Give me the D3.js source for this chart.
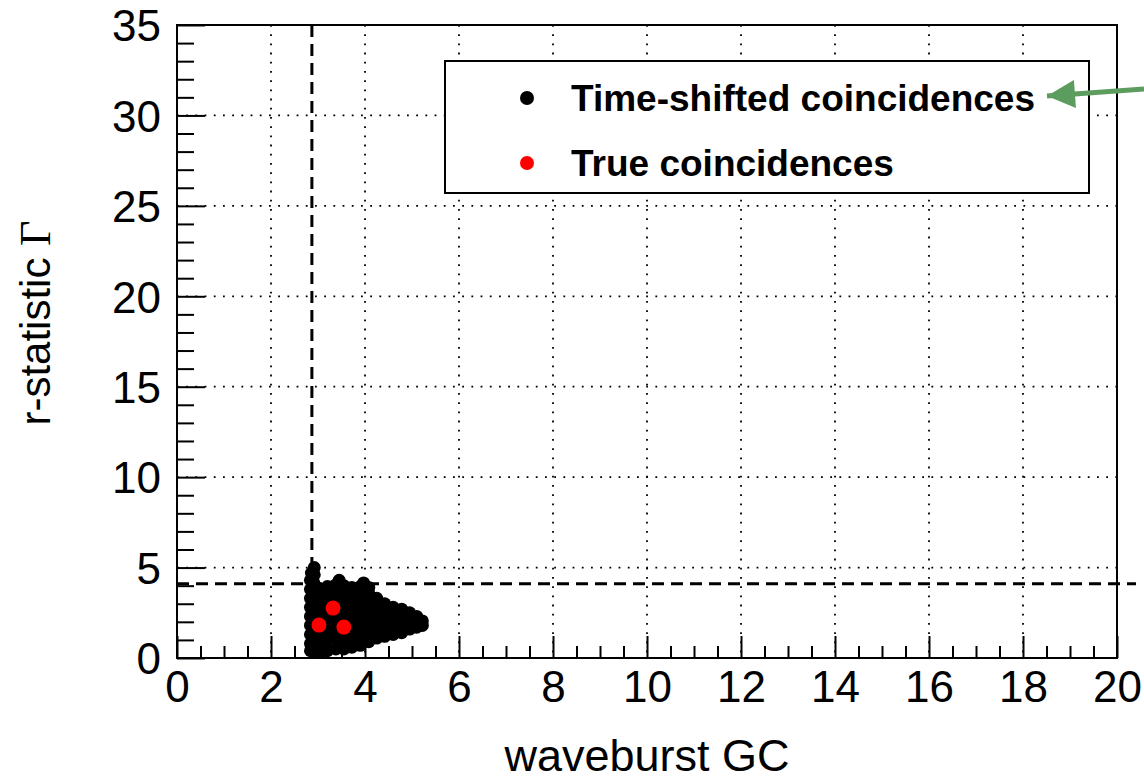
<!DOCTYPE html>
<html>
<head>
<meta charset="utf-8">
<script src="https://cdn.jsdelivr.net/npm/d3@7"></script>
<style>
  body { margin: 0; background: #fff; }
  svg { display: block; font-family: 'Liberation Sans', Arial, sans-serif; }
</style>
</head>
<body>
<script>
// data
var xMajorTicks = [0, 2, 4, 6, 8, 10, 12, 14, 16, 18, 20];
var yMajorTicks = [0, 5, 10, 15, 20, 25, 30, 35];
var xCut = 2.87;
var yCut = 4.1;

var shiftedPoints = [
	[2.84, 0.4], [2.84, 0.8], [2.84, 1.3], [2.84, 1.8], [2.84, 2.3], [2.84, 2.8], [2.84, 3.3], [2.84, 3.8], [2.84, 4.3], [2.86, 4.7],
	[2.92, 0.3], [2.92, 0.6], [2.92, 1.1], [2.92, 1.6], [2.92, 2.1], [2.92, 2.6], [2.92, 3.1], [2.92, 3.6], [2.92, 4.1], [2.92, 4.6], [2.92, 5.0],
	[3.05, 0.3], [3.05, 0.8], [3.05, 1.3], [3.05, 1.9], [3.05, 2.4], [3.05, 2.9], [3.05, 3.4], [3.05, 3.8],
	[3.2, 0.4], [3.2, 1.0], [3.2, 1.5], [3.2, 2.0], [3.2, 2.5], [3.2, 3.0], [3.2, 3.5], [3.2, 3.95],
	[3.38, 0.5], [3.38, 1.1], [3.38, 1.6], [3.38, 2.1], [3.38, 2.6], [3.38, 3.1], [3.38, 3.6], [3.38, 4.05], [3.45, 4.3],
	[3.55, 0.5], [3.55, 1.0], [3.55, 1.5], [3.55, 2.0], [3.55, 2.5], [3.55, 3.0], [3.55, 3.5], [3.55, 4.0],
	[3.72, 0.6], [3.72, 1.1], [3.72, 1.6], [3.72, 2.1], [3.72, 2.6], [3.72, 3.1], [3.72, 3.6], [3.72, 3.9],
	[3.9, 0.7], [3.9, 1.1], [3.9, 1.6], [3.9, 2.1], [3.9, 2.6], [3.9, 3.1], [3.9, 3.6], [3.9, 3.95], [3.97, 4.15],
	[4.08, 0.9], [4.08, 1.2], [4.08, 1.7], [4.08, 2.2], [4.08, 2.7], [4.08, 3.2], [4.08, 3.6], [4.08, 3.9],
	[4.25, 1.1], [4.25, 1.5], [4.25, 1.9], [4.25, 2.3], [4.25, 2.8], [4.25, 3.1], [4.25, 3.3],
	[4.42, 1.2], [4.42, 1.6], [4.42, 2.0], [4.42, 2.4], [4.42, 2.8], [4.42, 3.0],
	[4.6, 1.3], [4.6, 1.7], [4.6, 2.1], [4.6, 2.5], [4.6, 2.8],
	[4.78, 1.4], [4.78, 1.8], [4.78, 2.2], [4.78, 2.5], [4.78, 2.7],
	[4.95, 1.6], [4.95, 1.9], [4.95, 2.2], [4.95, 2.5],
	[5.1, 1.7], [5.1, 2.0], [5.1, 2.3],
	[5.22, 1.8], [5.22, 2.05]
];

// true coincidences
var truePoints = [
	[3.32, 2.76],
	[3.02, 1.82],
	[3.55, 1.71]
];

var legendItems = [
	{ label: 'Time-shifted coincidences', color: '#000' },
	{ label: 'True coincidences', color: '#ff0000' }
];

// chart
var width = 1144, height = 783;
var plot = { left: 177, right: 1117, top: 25, bottom: 658 };

var svg = d3.select('body')
	.append('svg')
	.attr('width', width)
	.attr('height', height);

var x = d3.scaleLinear().domain([0, 20]).range([plot.left, plot.right]);
var y = d3.scaleLinear().domain([0, 35]).range([plot.bottom, plot.top]);

// grid
svg.append('g')
	.selectAll('line')
	.data(xMajorTicks.slice(1, -1)).enter()
	.append('line')
	.attr('x1', function (d) { return x(d); })
	.attr('x2', function (d) { return x(d); })
	.attr('y1', plot.top)
	.attr('y2', plot.bottom)
	.attr('stroke', '#000')
	.attr('stroke-width', 1.8)
	.attr('stroke-dasharray', '1.8 7.4');
svg.append('g')
	.selectAll('line')
	.data(yMajorTicks.slice(1, -1)).enter()
	.append('line')
	.attr('x1', plot.left)
	.attr('x2', plot.right)
	.attr('y1', function (d) { return y(d); })
	.attr('y2', function (d) { return y(d); })
	.attr('stroke', '#000')
	.attr('stroke-width', 1.8)
	.attr('stroke-dasharray', '1.8 7.4');

// axes (ticks inward)
var xMinor = d3.range(0, 20.01, 0.5).filter(function (d) { return d % 2 !== 0; });
var yMinor = d3.range(0, 35.01, 1).filter(function (d) { return d % 5 !== 0; });

svg.append('g')
	.attr('class', 'x axis minor')
	.attr('transform', 'translate(0,' + plot.bottom + ')')
	.call(d3.axisBottom(x).tickValues(xMinor).tickSizeInner(-12).tickSizeOuter(0).tickFormat(''));
svg.append('g')
	.attr('class', 'x axis')
	.attr('transform', 'translate(0,' + plot.bottom + ')')
	.call(d3.axisBottom(x).tickValues(xMajorTicks).tickSizeInner(-22).tickSizeOuter(0).tickPadding(12).tickFormat(d3.format('d')));
svg.append('g')
	.attr('class', 'y axis minor')
	.attr('transform', 'translate(' + plot.left + ',0)')
	.call(d3.axisLeft(y).tickValues(yMinor).tickSizeInner(-17).tickSizeOuter(0).tickFormat(''));
svg.append('g')
	.attr('class', 'y axis')
	.attr('transform', 'translate(' + plot.left + ',0)')
	.call(d3.axisLeft(y).tickValues(yMajorTicks).tickSizeInner(-28).tickSizeOuter(0).tickPadding(16).tickFormat(d3.format('d')));

svg.selectAll('.axis path').remove();
svg.selectAll('.axis line').attr('stroke', '#000').attr('stroke-width', 2);
svg.selectAll('.axis text')
	.attr('fill', '#000')
	.style('font-family', "'Liberation Sans', Arial, sans-serif")
	.style('font-size', '44px');
svg.select('.y.axis:not(.minor)').selectAll('text').attr('dy', '0.36em');
svg.select('.x.axis:not(.minor)').selectAll('text').attr('dy', '0.72em');

// frame
svg.append('rect')
	.attr('x', plot.left)
	.attr('y', plot.top)
	.attr('width', plot.right - plot.left)
	.attr('height', plot.bottom - plot.top)
	.attr('fill', 'none')
	.attr('stroke', '#000')
	.attr('stroke-width', 2);

// cut lines
svg.append('line')
	.attr('x1', x(xCut)).attr('x2', x(xCut))
	.attr('y1', plot.top).attr('y2', plot.bottom)
	.attr('stroke', '#000')
	.attr('stroke-width', 3)
	.attr('stroke-dasharray', '12 7');
svg.append('line')
	.attr('x1', plot.left).attr('x2', 1136)
	.attr('y1', y(yCut)).attr('y2', y(yCut))
	.attr('stroke', '#000')
	.attr('stroke-width', 3)
	.attr('stroke-dasharray', '12 7');

// points
svg.append('g')
	.selectAll('circle')
	.data(shiftedPoints).enter()
	.append('circle')
	.attr('cx', function (d) { return x(d[0]); })
	.attr('cy', function (d) { return y(d[1]); })
	.attr('r', 6.5)
	.attr('fill', '#000');
svg.append('g')
	.selectAll('circle')
	.data(truePoints).enter()
	.append('circle')
	.attr('cx', function (d) { return x(d[0]); })
	.attr('cy', function (d) { return y(d[1]); })
	.attr('r', 7.5)
	.attr('fill', '#ff0000');

// legend
var legend = svg.append('g');
legend.append('rect')
	.attr('x', 445)
	.attr('y', 61)
	.attr('width', 644)
	.attr('height', 132)
	.attr('fill', '#fff')
	.attr('stroke', '#000')
	.attr('stroke-width', 2);
var rows = legend.selectAll('g.item')
	.data(legendItems).enter()
	.append('g')
	.attr('class', 'item')
	.attr('transform', function (d, i) { return 'translate(0,' + (98 + i * 65) + ')'; });
rows.append('circle')
	.attr('cx', 527)
	.attr('cy', 0)
	.attr('r', 7)
	.attr('fill', function (d) { return d.color; });
rows.append('text')
	.attr('x', 571)
	.attr('y', 0)
	.attr('dy', '0.36em')
	.style('font-size', '37px')
	.style('font-weight', 'bold')
	.text(function (d) { return d.label; });

// arrow
svg.append('defs')
	.append('marker')
	.attr('id', 'head')
	.attr('viewBox', '0 0 10 10')
	.attr('refX', 10)
	.attr('refY', 5)
	.attr('markerWidth', 32)
	.attr('markerHeight', 28)
	.attr('markerUnits', 'userSpaceOnUse')
	.attr('orient', 'auto')
	.append('path')
	.attr('d', 'M0,0 L10,5 L0,10 Z')
	.attr('fill', '#5c9c5e');
svg.append('line')
	.attr('x1', 1144).attr('y1', 89)
	.attr('x2', 1047).attr('y2', 96)
	.attr('stroke', '#5c9c5e')
	.attr('stroke-width', 5)
	.attr('marker-end', 'url(#head)');

// axis titles
svg.append('text')
	.attr('x', 647)
	.attr('y', 771)
	.attr('text-anchor', 'middle')
	.style('font-size', '45px')
	.text('waveburst GC');
var yTitle = svg.append('text')
	.attr('transform', 'translate(50,323) rotate(-90)')
	.attr('text-anchor', 'middle')
	.style('font-size', '42px')
	.text('r-statistic ');
yTitle.append('tspan')
	.style('font-family', "'Liberation Serif', 'Times New Roman', serif")
	.style('font-size', '44px')
	.text('Γ');
</script>
</body>
</html>
